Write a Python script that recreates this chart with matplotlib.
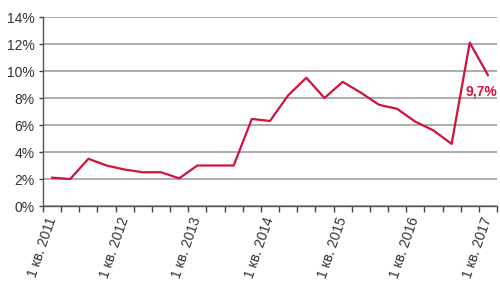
import matplotlib.pyplot as plt
from matplotlib.ticker import FixedLocator, FuncFormatter

# quarterly values, 1 кв. 2011 .. 1 кв. 2017
quarters = list(range(25))
values = [2.1, 2.0, 3.5, 3.0, 2.7, 2.5, 2.5, 2.05, 3.0, 3.0, 3.0,
          6.45, 6.3, 8.2, 9.5, 8.0, 9.2, 8.4, 7.5, 7.2, 6.25, 5.6, 4.6,
          12.1, 9.7]
year_labels = ['1 кв. 2011', '1 кв. 2012', '1 кв. 2013', '1 кв. 2014',
               '1 кв. 2015', '1 кв. 2016', '1 кв. 2017']
label_pos = [0, 4, 8, 12, 16, 20, 24]

plt.rcParams['font.family'] = ['Liberation Sans', 'DejaVu Sans']

fig = plt.figure(figsize=(5.0, 2.99), dpi=100)
ax = fig.add_axes([0.086, 0.311, 0.908, 0.632])

red = '#d0123c'
ax.plot(quarters, values, color=red, lw=1.6, zorder=3)
ax.text(quarters[-1] - 0.35, values[-1] - 1.2, '9,7%', color=red,
        fontsize=10, fontweight='bold', ha='center', va='center')

ax.set_xlim(-0.5, 24.5)
ax.set_ylim(0, 14)
ax.set_yticks(range(0, 15, 2))
ax.yaxis.set_major_formatter(FuncFormatter(lambda v, p: f'{int(v)}%'))
ax.grid(axis='y', color='#a6a6a6', lw=1.3)
ax.set_axisbelow(True)

ax.set_xticks(label_pos)
ax.set_xticklabels(year_labels, rotation=71, ha='right', va='center',
                   rotation_mode='anchor')
ax.xaxis.set_minor_locator(FixedLocator([i - 0.5 for i in range(26)]))
ax.tick_params(axis='x', which='major', length=0, pad=8, labelsize=10,
               labelcolor='#333333')
ax.tick_params(axis='x', which='minor', length=4, width=1, color='#444444',
               direction='out')
ax.tick_params(axis='y', length=3, width=1, color='#444444', labelsize=10,
               labelcolor='#333333', pad=3)

for s in ['top', 'right']:
    ax.spines[s].set_visible(False)
for s in ['left', 'bottom']:
    ax.spines[s].set_color('#555555')
    ax.spines[s].set_linewidth(1)

fig.savefig('out.png', dpi=100)
